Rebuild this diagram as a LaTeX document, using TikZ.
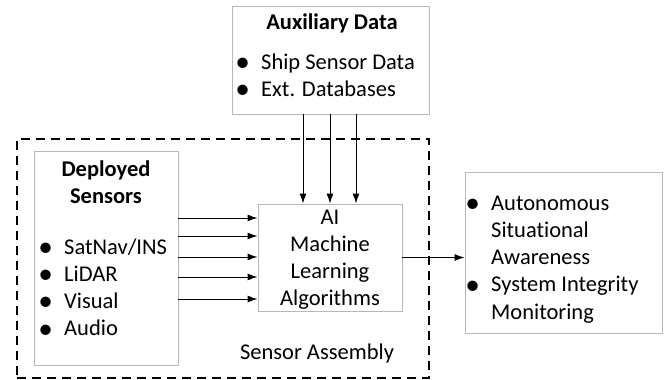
\documentclass[tikz,border=0pt]{standalone}
\usepackage{fontspec}
\setmainfont{Carlito}[Ligatures=NoCommon]
\usepackage{xcolor}
\usetikzlibrary{arrows.meta}
\definecolor{boxgray}{gray}{0.72}
\newcommand{\itm}[1]{\makebox[37pt][c]{\smash{\raisebox{-2.2pt}{\scalebox{1.3}{\textbullet}}}}#1}
\newcommand{\cont}[1]{\hspace*{37pt}#1}

\begin{document}
\begin{tikzpicture}[x=1pt,y=-1pt,
    box/.style={draw=boxgray,line width=0.9pt,fill=white,inner sep=0pt},
    txt/.style={inner sep=0pt,font=\fontsize{22.5}{27.3}\selectfont},
    ttl/.style={txt,font=\fontsize{22.5}{27.3}\selectfont\bfseries},
    arr/.style={-{Latex[length=10pt,width=7pt]},line width=1pt}]
        \useasboundingbox[fill=white] (0,0) rectangle (665,380);

        % Sensor assembly frame
        \node[draw,line width=2.3pt,dash pattern=on 9pt off 6pt,minimum width=412pt,minimum height=239pt,inner sep=0pt] (asm) at (223,258.5) {};
        \node[txt,anchor=base] (asmlabel) at (317,359) {Sensor Assembly};

        % Auxiliary data
        \node[box,minimum width=197pt,minimum height=108pt] (aux) at (330.5,60) {};
        \node[ttl,anchor=base] (auxtitle) at (332,29) {Auxiliary Data};
        \node[txt,anchor=base west] (auxlist) at (224,69) {\begin{tabular}[t]{@{}l@{}}\itm{Ship Sensor Data}\\ \itm{Ext. Databases}\end{tabular}};

        % Deployed sensors
        \node[box,minimum width=144pt,minimum height=214pt] (dep) at (106,258) {};
        \node[ttl,anchor=base] (deptitle) at (106,176) {\begin{tabular}[t]{@{}c@{}}Deployed\\ Sensors\end{tabular}};
        \node[txt,anchor=base west] (deplist) at (27,254) {\begin{tabular}[t]{@{}l@{}}\itm{SatNav/INS}\\ \itm{LiDAR}\\ \itm{Visual}\\ \itm{Audio}\end{tabular}};

        % AI block
        \node[box,minimum width=144pt,minimum height=107pt] (ai) at (330,257.5) {};
        \node[txt,anchor=base] (aitext) at (330,224) {\begin{tabular}[t]{@{}c@{}}AI\\ Machine\\ Learning\\ Algorithms\end{tabular}};

        % Output
        \node[box,minimum width=197pt,minimum height=161pt] (out) at (563.5,252.5) {};
        \node[txt,anchor=base west] (outlist) at (454,210) {\begin{tabular}[t]{@{}l@{}}\itm{Autonomous}\\ \cont{Situational}\\ \cont{Awareness}\\ \itm{System Integrity}\\ \cont{Monitoring}\end{tabular}};

        % Connections
        \foreach \y in {218,236,257,277,299}
            \draw[arr] (dep.east |- 0,\y) -- (ai.west |- 0,\y);
        \foreach \x in {303,330,356}
            \draw[arr] (aux.south -| \x,0) -- (ai.north -| \x,0);
        \draw[arr] (ai.east) -- (ai.east -| out.west);
    \end{tikzpicture}
\end{document}
